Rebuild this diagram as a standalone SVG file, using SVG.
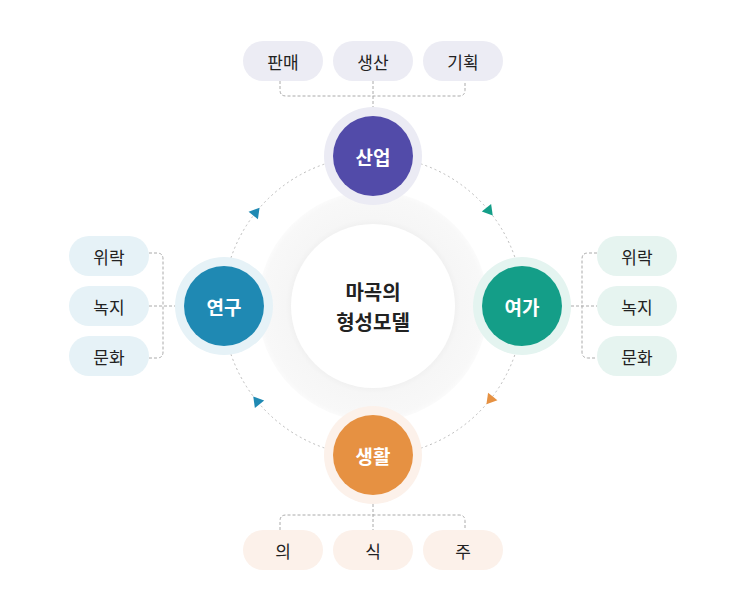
<svg xmlns="http://www.w3.org/2000/svg" width="745" height="610" viewBox="0 0 745 610">
<style>
.pill-t{font-family:"Noto Sans CJK KR","Noto Sans",sans-serif;font-size:17px;fill:#222;text-anchor:middle;dominant-baseline:central}
.node-t{font-family:"Noto Sans CJK KR","Noto Sans",sans-serif;font-size:19px;font-weight:700;fill:#fff;text-anchor:middle;dominant-baseline:central}
.center-t{font-family:"Noto Sans CJK KR","Noto Sans",sans-serif;font-size:20px;font-weight:700;fill:#222;text-anchor:middle;dominant-baseline:central}
.conn{fill:none;stroke:#aaa;stroke-width:1;stroke-dasharray:3 2}
.orbit{fill:none;stroke:#bbb;stroke-width:1;stroke-dasharray:2 3}
</style>
<defs>
<radialGradient id="ring" cx="0.5" cy="0.5" r="0.5">
<stop offset="0.68" stop-color="#eeeeee"/>
<stop offset="0.76" stop-color="#f6f6f6"/>
<stop offset="0.96" stop-color="#f8f8f8"/>
<stop offset="1" stop-color="#fbfbfb"/>
</radialGradient>
<polygon id="tri" points="5,0 -5,-6 -5,6"/>
</defs>
<rect width="745" height="610" fill="#fff"/>
<g id="center">
<circle cx="373" cy="306" r="115" fill="url(#ring)"/>
<circle cx="373" cy="306" r="82" fill="#fff"/>
<text class="center-t" x="373" y="291">마곡의</text>
<text class="center-t" x="373" y="321">형성모델</text>
</g>
<g id="connectors">
<circle class="orbit" cx="373" cy="306" r="150"/>
<use href="#tri" fill="#1f89b3" transform="translate(256.4,211.6) rotate(-51)"/>
<use href="#tri" fill="#149e88" transform="translate(489.6,211.6) rotate(51)"/>
<use href="#tri" fill="#e69142" transform="translate(489.6,400.4) rotate(129)"/>
<use href="#tri" fill="#1f89b3" transform="translate(256.4,400.4) rotate(231)"/>
<path class="conn" d="M280,81 V90 Q280,96 286,96 H459 Q465,96 465,90 V81 M373,81 V107"/>
<path class="conn" d="M149,253 H157 Q163,253 163,259 V352 Q163,358 157,358 H149 M149,306 H175"/>
<path class="conn" d="M597,253 H588 Q582,253 582,259 V352 Q582,358 588,358 H597 M571,306 H597"/>
<path class="conn" d="M280,530 V521 Q280,515 286,515 H459 Q465,515 465,521 V530 M373,504 V530"/>
</g>
<g id="node-sanup">
<circle cx="373" cy="156" r="49" fill="#ebebf4"/>
<circle cx="373" cy="156" r="40" fill="#524ba9"/>
<text class="node-t" x="373" y="156">산업</text>
</g>
<g id="node-yeongu">
<circle cx="224" cy="306" r="49" fill="#e6f2f7"/>
<circle cx="224" cy="306" r="40" fill="#1f89b3"/>
<text class="node-t" x="224" y="306">연구</text>
</g>
<g id="node-yeoga">
<circle cx="522" cy="306" r="49" fill="#e4f4f0"/>
<circle cx="522" cy="306" r="40" fill="#149e88"/>
<text class="node-t" x="522" y="306">여가</text>
</g>
<g id="node-saenghwal">
<circle cx="373" cy="455" r="49" fill="#fcf1ea"/>
<circle cx="373" cy="455" r="40" fill="#e69142"/>
<text class="node-t" x="373" y="455">생활</text>
</g>
<g id="pill-panmae"><rect x="243" y="41" width="80" height="40" rx="20" fill="#ececf4"/><text class="pill-t" x="283" y="61">판매</text></g>
<g id="pill-saengsan"><rect x="333" y="41" width="80" height="40" rx="20" fill="#ececf4"/><text class="pill-t" x="373" y="61">생산</text></g>
<g id="pill-gihoek"><rect x="423" y="41" width="80" height="40" rx="20" fill="#ececf4"/><text class="pill-t" x="463" y="61">기획</text></g>
<g id="pill-l-wirak"><rect x="69" y="236" width="80" height="40" rx="20" fill="#e6f2f7"/><text class="pill-t" x="109" y="256">위락</text></g>
<g id="pill-l-nokji"><rect x="69" y="286" width="80" height="40" rx="20" fill="#e6f2f7"/><text class="pill-t" x="109" y="306">녹지</text></g>
<g id="pill-l-munhwa"><rect x="69" y="336" width="80" height="40" rx="20" fill="#e6f2f7"/><text class="pill-t" x="109" y="356">문화</text></g>
<g id="pill-r-wirak"><rect x="597" y="236" width="80" height="40" rx="20" fill="#e6f4f0"/><text class="pill-t" x="637" y="256">위락</text></g>
<g id="pill-r-nokji"><rect x="597" y="286" width="80" height="40" rx="20" fill="#e6f4f0"/><text class="pill-t" x="637" y="306">녹지</text></g>
<g id="pill-r-munhwa"><rect x="597" y="336" width="80" height="40" rx="20" fill="#e6f4f0"/><text class="pill-t" x="637" y="356">문화</text></g>
<g id="pill-ui"><rect x="243" y="530" width="80" height="40" rx="20" fill="#fcf1ea"/><text class="pill-t" x="283" y="550">의</text></g>
<g id="pill-sik"><rect x="333" y="530" width="80" height="40" rx="20" fill="#fcf1ea"/><text class="pill-t" x="373" y="550">식</text></g>
<g id="pill-ju"><rect x="423" y="530" width="80" height="40" rx="20" fill="#fcf1ea"/><text class="pill-t" x="463" y="550">주</text></g>
</svg>
